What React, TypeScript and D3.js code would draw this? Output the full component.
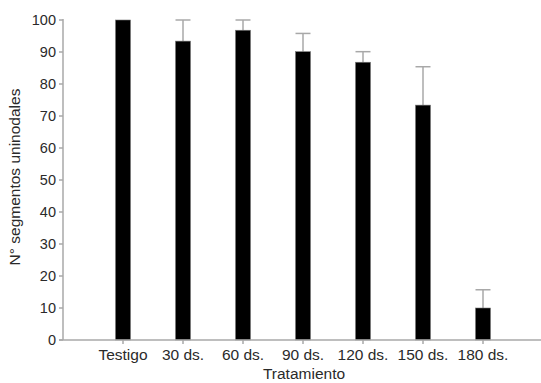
import React from 'react';
import * as d3 from 'd3';

const categories = ['Testigo', '30 ds.', '60 ds.', '90 ds.', '120 ds.', '150 ds.', '180 ds.'];
const means = [100, 93.4, 96.8, 90.1, 86.8, 73.4, 10.0];
const errUp = [0, 6.6, 3.2, 5.7, 3.3, 12.0, 5.7];
const yTicks = [0, 10, 20, 30, 40, 50, 60, 70, 80, 90, 100];

const W = 541;
const H = 383;
const left = 63;
const top = 20;
const bottom = 340;

export default function App() {
  const x = d3.scalePoint<string>().domain(categories).range([left, W + 2]).padding(1);
  const y = d3.scaleLinear().domain([0, 100]).range([bottom, top]);
  const barW = 15;
  const axisColor = '#a8a8a8';
  const textColor = '#2a2a2a';
  const font = 'Liberation Sans, Arial, sans-serif';

  return (
    <svg width={W} height={H} style={{ position: 'absolute', left: 0, top: 0, background: '#fff' }}>
      {/* bars + error bars */}
      {categories.map((c, i) => {
        const cx = x(c) as number;
        return (
          <g key={c}>
            {errUp[i] > 0 && (
              <g stroke={axisColor} strokeWidth={1.5}>
                <line x1={cx} x2={cx} y1={y(means[i])} y2={y(means[i] + errUp[i])} />
                <line x1={cx - barW / 2} x2={cx + barW / 2} y1={y(means[i] + errUp[i])} y2={y(means[i] + errUp[i])} />
              </g>
            )}
            <rect x={cx - barW / 2} y={y(means[i])} width={barW} height={bottom - y(means[i])} fill="#000" stroke="#777" strokeWidth={0.6} />
          </g>
        );
      })}

      {/* y axis */}
      <line x1={left} x2={left} y1={top - 1} y2={bottom} stroke={axisColor} strokeWidth={1.5} />
      {yTicks.map(t => (
        <g key={t}>
          <line x1={left - 4} x2={left} y1={y(t)} y2={y(t)} stroke={axisColor} strokeWidth={1.5} />
          <text x={left - 7} y={y(t)} dy="0.35em" textAnchor="end" fontFamily={font} fontSize={14.5} fill={textColor}>{t}</text>
        </g>
      ))}

      {/* x axis */}
      <line x1={left - 4} x2={W} y1={bottom} y2={bottom} stroke={axisColor} strokeWidth={1.5} />
      {categories.map(c => (
        <g key={c}>
          <line x1={x(c)} x2={x(c)} y1={bottom} y2={bottom + 4} stroke={axisColor} strokeWidth={1.5} />
          <text x={x(c)} y={bottom + 20} textAnchor="middle" fontFamily={font} fontSize={15.5} fill={textColor}>{c}</text>
        </g>
      ))}

      <text x={(left + W) / 2 + 2} y={H - 4} textAnchor="middle" fontFamily={font} fontSize={15.5} fill={textColor}>Tratamiento</text>
      <text transform={`translate(20,${(top + bottom) / 2 - 3}) rotate(-90)`} textAnchor="middle" fontFamily={font} fontSize={15.5} fill={textColor}>N° segmentos uninodales</text>
    </svg>
  );
}
